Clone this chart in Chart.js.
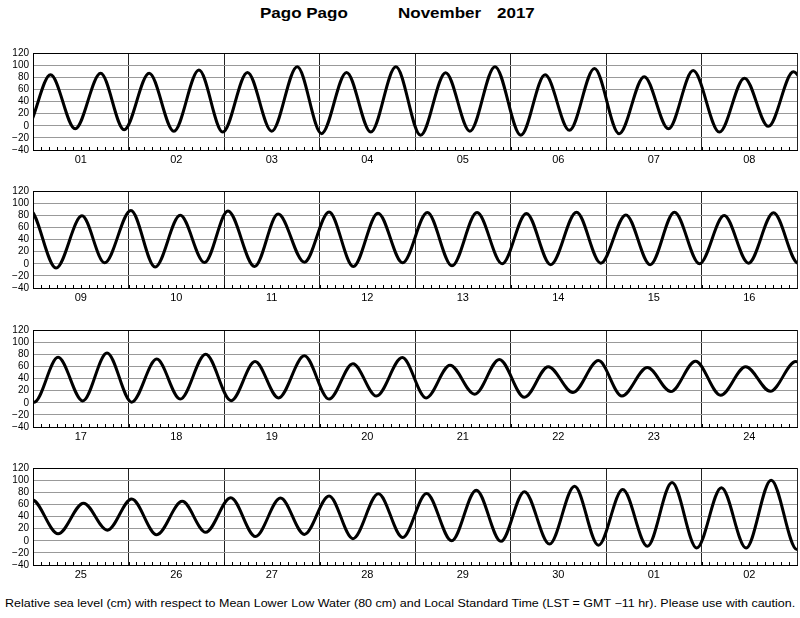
<!DOCTYPE html>
<html>
<head>
<meta charset="utf-8">
<script src="https://cdn.jsdelivr.net/npm/chart.js@4.4.0/dist/chart.umd.min.js"></script>
<style>
  body { margin: 0; background: #fff; width: 800px; height: 618px; position: relative; overflow: hidden;
         font-family: "Liberation Sans", Arial, Helvetica, sans-serif; }
  .ttl { position: absolute; top: 5px; font-size: 17px; font-weight: bold; transform: scaleY(0.85); transform-origin: 0 0; }
  .panel { position: absolute; left: 0; }
  #foot { position: absolute; left: 5px; top: 598px; font-size: 12.5px; white-space: nowrap; transform: scaleY(0.85); transform-origin: 0 0; }
</style>
</head>
<body>
<div class="ttl" style="left:260px">Pago Pago</div>
<div class="ttl" style="left:398px">November</div>
<div class="ttl" style="left:497px">2017</div>

<canvas id="c1" class="panel" width="800" height="138" style="top:43px"></canvas>
<canvas id="c2" class="panel" width="800" height="138" style="top:181px"></canvas>
<canvas id="c3" class="panel" width="800" height="138" style="top:320px"></canvas>
<canvas id="c4" class="panel" width="800" height="138" style="top:458px"></canvas>

<div id="foot">Relative sea level (cm) with respect to Mean Lower Low Water (80 cm) and Local Standard Time (LST = GMT −11 hr). Please use with caution.</div>

<script>
// high / low water times (hours from start of panel) and levels (cm)
var p1Hours = [-8.0, -1.8, 4.4, 10.6, 17.0, 22.9, 29.2, 35.4, 41.7, 47.7, 53.9, 60.0, 66.4, 72.5, 78.8, 84.9, 91.2, 97.4, 103.7, 109.8, 116.1, 122.6, 128.7, 134.8, 141.1, 147.3, 153.6, 159.7, 165.9, 172.5, 178.8, 184.8, 191.1, 197.4]
var p1Levels = [85, -4, 84, -5, 86.5, -6.5, 86.5, -9, 92, -10.5, 88, -9, 97.5, -13, 88, -10.5, 97.5, -15.5, 87.5, -9, 97.5, -15.5, 84, -7.5, 94.5, -13, 81, -5, 91, -10.5, 78.5, -1, 89, -7]

var p2Hours = [-7.2, -0.9, 5.8, 12.3, 18.0, 24.6, 30.7, 37.0, 43.1, 49.0, 55.7, 61.6, 68.2, 74.4, 80.5, 86.7, 92.9, 99.1, 105.3, 111.6, 117.9, 124.0, 130.1, 136.6, 142.7, 149.0, 155.1, 161.2, 167.5, 173.7, 179.8, 186.1, 192.3, 198.5]
var p2Levels = [-1, 89.5, -7, 79, 1.5, 88, -5.5, 80, 2, 87, -4.5, 82, 2.5, 85.5, -4.5, 83.5, 1.5, 84.5, -3.5, 84.5, 0, 83, -1.5, 85, 1, 80.5, -1.5, 85, 0, 79.5, 1, 84, 1, 75]

var p3Hours = [-6.4, 0.3, 6.3, 12.5, 18.6, 24.8, 31.1, 37.0, 43.4, 49.8, 55.8, 61.7, 68.2, 74.4, 80.4, 86.3, 92.8, 98.8, 104.8, 111.0, 117.2, 123.5, 129.5, 135.7, 142.1, 148.0, 154.4, 160.3, 166.5, 172.8, 179.1, 185.3, 191.7, 198.0]
var p3Levels = [84.5, 1, 75, 3, 82, 1, 72, 6, 80, 3.5, 68, 8, 77.5, 6, 64.5, 11, 74.5, 8, 62, 14, 71.5, 9, 59.5, 17, 69.5, 11, 58, 18.5, 68.5, 12.5, 59.5, 19, 68, 12]

var p4Hours = [-6.7, -0.3, 6.3, 12.7, 18.7, 24.8, 31.1, 37.5, 43.4, 49.7, 55.9, 62.2, 68.2, 74.4, 80.4, 86.8, 92.9, 98.9, 105.2, 111.4, 117.6, 123.5, 129.8, 136.1, 142.1, 148.2, 154.4, 160.6, 166.8, 173.0, 179.2, 185.5, 192.0, 198.4]
var p4Levels = [19, 68, 11.5, 62, 17.5, 69, 10, 65, 14, 71, 7, 70.5, 10.5, 74, 3.5, 77.5, 5.5, 78, 0, 83.5, -1, 81, -5.5, 90, -7.5, 84.5, -9, 96, -12, 87.5, -12, 100, -14.5, 90]

var p1Days = ['01', '02', '03', '04', '05', '06', '07', '08']
var p2Days = ['09', '10', '11', '12', '13', '14', '15', '16']
var p3Days = ['17', '18', '19', '20', '21', '22', '23', '24']
var p4Days = ['25', '26', '27', '28', '29', '30', '01', '02']

var yTicks = [-40, -20, 0, 20, 40, 60, 80, 100, 120]
var hourTicks = [] // small 2-hour marks along the bottom
for (var h = 2; h < 192; h += 2) hourTicks.push(h)

var FONT = '"Liberation Sans", Arial, Helvetica, sans-serif'

var minorTicks = {
    id: 'minorTicks',
    afterDatasetsDraw(chart) {
        var ctx = chart.ctx, xs = chart.scales.x, area = chart.chartArea
        ctx.save()
        ctx.strokeStyle = '#000'
        ctx.lineWidth = 1
        ctx.beginPath()
        hourTicks.forEach(function (t) {
            var px = Math.round(xs.getPixelForValue(t)) + 0.5
            ctx.moveTo(px, area.bottom)
            ctx.lineTo(px, area.bottom - 3)
        })
        ctx.stroke()
        ctx.restore()
    }
}

function makePanel(id, hours, levels, days) {
    var pts = hours.map(function (h, i) { return { x: h, y: levels[i] } })
    new Chart(document.getElementById(id).getContext('2d'), {
        type: 'line',
        data: {
            datasets: [{
                data: pts,
                borderColor: '#000',
                borderWidth: 3,
                pointRadius: 0,
                cubicInterpolationMode: 'monotone',
                fill: false,
                clip: 0
            }]
        },
        options: {
            responsive: false,
            animation: false,
            layout: { padding: { top: 8, right: 3, left: 0, bottom: 0 } },
            plugins: { legend: { display: false }, tooltip: { enabled: false } },
            scales: {
                x: {
                    type: 'linear', min: 0, max: 192,
                    afterFit: function (s) { s.height = 31 },
                    afterBuildTicks: function (s) {
                        var t = []
                        for (var v = 0; v <= 192; v += 12) t.push({ value: v })
                        s.ticks = t
                    },
                    border: { color: '#000', width: 1 },
                    grid: {
                        drawTicks: false,
                        lineWidth: 1,
                        color: function (c) { return c.tick && c.tick.value % 24 === 0 ? '#222' : 'rgba(0,0,0,0)' }
                    },
                    ticks: {
                        autoSkip: false, maxRotation: 0, padding: 3,
                        color: '#000', font: { family: FONT, size: 11 },
                        callback: function (v) { return v % 24 === 12 ? days[(v - 12) / 24] : '' }
                    }
                },
                y: {
                    min: -40, max: 120,
                    afterFit: function (s) { s.width = 33 },
                    afterBuildTicks: function (s) { s.ticks = yTicks.map(function (v) { return { value: v } }) },
                    border: { color: '#000', width: 1 },
                    grid: {
                        drawTicks: false,
                        lineWidth: 1,
                        color: function (c) { return c.tick && c.tick.value === 120 ? '#000' : '#999' }
                    },
                    ticks: {
                        autoSkip: false, padding: 4, color: '#000', font: { family: FONT, size: 10 },
                        callback: function (v) { return v < 0 ? '\u2212' + Math.abs(v) : String(v) }
                    }
                }
            }
        },
        plugins: [minorTicks]
    })
}

makePanel('c1', p1Hours, p1Levels, p1Days)
makePanel('c2', p2Hours, p2Levels, p2Days)
makePanel('c3', p3Hours, p3Levels, p3Days)
makePanel('c4', p4Hours, p4Levels, p4Days)
</script>
</body>
</html>
